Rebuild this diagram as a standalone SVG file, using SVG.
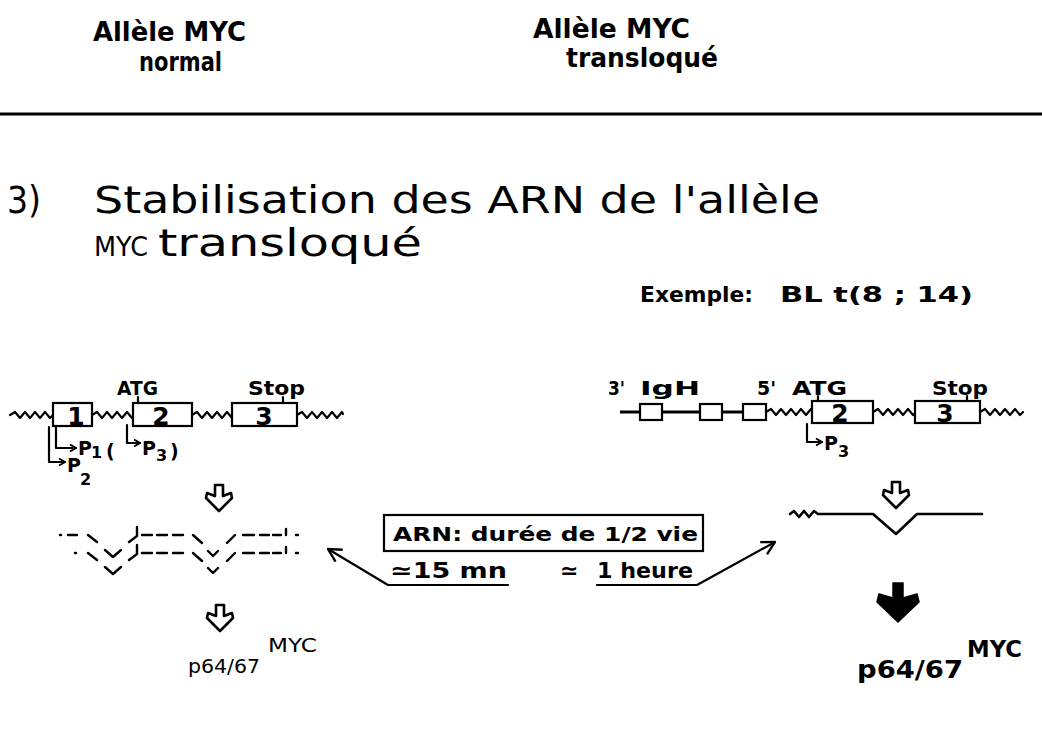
<svg xmlns="http://www.w3.org/2000/svg" width="1042" height="743" viewBox="0 0 1042 743">
<defs>
<style>
text{font-family:"DejaVu Sans","Liberation Sans",sans-serif;fill:#000}
.hd{font-family:"DejaVu Sans Condensed","DejaVu Sans",sans-serif;font-size:27px;font-weight:bold}
.tt{font-family:"DejaVu Sans Condensed","DejaVu Sans",sans-serif;font-size:37px}
.lb{font-size:20px;font-weight:bold}
.num{font-size:25px;font-weight:bold;text-anchor:middle}
.pp{font-size:19px;font-weight:bold}
.sb{font-size:16px;font-weight:bold}
.ln{fill:none;stroke:#000;stroke-width:2.2;stroke-linecap:round;stroke-linejoin:round}
.box{fill:#fff;stroke:#000;stroke-width:2.2}
.dash{fill:none;stroke:#000;stroke-width:2.4;stroke-linecap:round;stroke-linejoin:round}
.oa{fill:#fff;stroke:#000;stroke-width:2.6;stroke-linejoin:round}
</style>
<marker id="pa" viewBox="0 0 8 8" refX="7" refY="4" markerWidth="8" markerHeight="8" markerUnits="userSpaceOnUse" orient="auto">
<path d="M1,0.5 L7,4 L1,7.5" fill="none" stroke="#000" stroke-width="1.8"/>
</marker>
<marker id="la" viewBox="0 0 16 16" refX="15" refY="8" markerWidth="16" markerHeight="16" markerUnits="userSpaceOnUse" orient="auto">
<path d="M2,1 L15,8 L2,15" fill="none" stroke="#000" stroke-width="2.4"/>
</marker>
<path id="oarrow" d="M-4,0 H4 V11 L12,8 L13,13 L0,26 L-13,13 L-12,8 L-4,11 Z"/>
</defs>

<g id="header">
<text class="hd" x="93" y="41" textLength="153" lengthAdjust="spacingAndGlyphs">Allèle MYC</text>
<text class="hd" x="139" y="71" textLength="83" lengthAdjust="spacingAndGlyphs">normal</text>
<text class="hd" x="533" y="38" textLength="157" lengthAdjust="spacingAndGlyphs">Allèle MYC</text>
<text class="hd" x="566" y="67" textLength="152" lengthAdjust="spacingAndGlyphs">transloqué</text>
<line x1="0" y1="114" x2="1042" y2="114" stroke="#000" stroke-width="3"/>
</g>

<g id="title">
<text class="tt" x="7" y="213" textLength="34" lengthAdjust="spacingAndGlyphs">3)</text>
<text class="tt" x="94" y="213" textLength="726" lengthAdjust="spacingAndGlyphs">Stabilisation des ARN de l'allèle</text>
<text class="tt" x="94" y="256" style="font-size:27px" textLength="54" lengthAdjust="spacingAndGlyphs">MYC</text>
<text class="tt" x="158" y="256" textLength="264" lengthAdjust="spacingAndGlyphs">transloqué</text>
<text class="lb" x="640" y="302" style="font-size:22px" textLength="113" lengthAdjust="spacingAndGlyphs">Exemple:</text>
<text class="lb" x="780" y="302" style="font-size:22px" textLength="193" lengthAdjust="spacingAndGlyphs">BL t(8 ; 14)</text>
</g>

<g id="gene-normal">
<path class="ln" d="M10,415 l5,-3 5,6 5,-6 5,6 5,-6 5,6 5,-6 5,6 3,-3"/>
<rect class="box" x="53" y="403" width="39" height="23"/>
<text class="num" x="76" y="425">1</text>
<path class="ln" d="M92,415 l5,-3 5,6 5,-6 5,6 5,-6 5,6 5,-6 5,6 3,-3"/>
<rect class="box" x="133" y="403" width="59" height="23"/>
<text class="num" x="161" y="425">2</text>
<path class="ln" d="M192,415 l5,-3 5,6 5,-6 5,6 5,-6 5,6 5,-6 5,6"/>
<rect class="box" x="232" y="403" width="65" height="23"/>
<text class="num" x="264" y="425">3</text>
<path class="ln" d="M297,415 l5,-3 5,6 5,-6 5,6 5,-6 5,6 5,-6 5,6 5,-6 1,2"/>
<text class="lb" x="117" y="395" textLength="41" lengthAdjust="spacingAndGlyphs">ATG</text>
<line class="ln" x1="138" y1="397" x2="138" y2="403"/>
<text class="lb" x="248" y="395" textLength="57" lengthAdjust="spacingAndGlyphs">Stop</text>
<line class="ln" x1="283" y1="397" x2="283" y2="403"/>
<path class="ln" d="M49,427 V462 H65" marker-end="url(#pa)"/>
<path class="ln" d="M56,427 V448 H76" marker-end="url(#pa)"/>
<path class="ln" d="M127,425 V443 H140" marker-end="url(#pa)"/>
<text class="pp" x="78" y="455">P</text>
<text class="sb" x="91" y="458">1</text>
<text class="pp" x="67" y="472">P</text>
<text class="sb" x="80" y="485">2</text>
<text class="pp" x="106" y="458">(</text>
<text class="pp" x="142" y="455">P</text>
<text class="sb" x="156" y="461">3</text>
<text class="pp" x="170" y="458">)</text>
</g>

<g id="arrow-normal-1"><use href="#oarrow" class="oa" transform="translate(219,485)"/></g>

<g id="rna-normal">
<path class="dash" d="M60,535 h1 M68,535 h9 M88,535 l9,7 M129,542 l8,-6 V527 M142,535 h10 M157,535 h10 M173,535 h10 M193,535 l9,8 M227,543 l8,-8 M243,535 h11 M260,535 h9 M273,535 h8 M286,529 v6 M296,535 h2"/>
<path class="dash" d="M75,553 h1 M88,553 l9,7 M105,550 l8,7 l8,-7 M105,567 l8,7 l8,-7 M129,560 l8,-6 V545 M142,553 h10 M157,553 h10 M173,553 h10 M193,553 l9,8 M208,551 l5,5 l5,-5 M208,568 l5,5 l5,-5 M227,561 l8,-8 M243,553 h11 M260,553 h9 M273,553 h8 M286,547 v6 M296,553 h2"/>
</g>

<g id="arrow-normal-2"><use href="#oarrow" class="oa" transform="translate(220,605)"/></g>

<g id="protein-normal">
<text x="188" y="673" style="font-size:20px" textLength="72" lengthAdjust="spacingAndGlyphs">p64/67</text>
<text x="268" y="652" style="font-size:20px" textLength="49" lengthAdjust="spacingAndGlyphs">MYC</text>
</g>

<g id="half-life">
<rect x="384" y="515" width="319" height="36" fill="#fff" stroke="#000" stroke-width="2.2"/>
<text class="lb" x="393" y="541" textLength="305" lengthAdjust="spacingAndGlyphs">ARN: durée de 1/2 vie</text>
<text class="lb" x="390" y="578" style="font-size:22px" textLength="117" lengthAdjust="spacingAndGlyphs">≃15 mn</text>
<text class="lb" x="560" y="578" style="font-size:22px">≃</text>
<text class="lb" x="597" y="578" style="font-size:22px" textLength="96" lengthAdjust="spacingAndGlyphs">1 heure</text>
</g>

<g id="connectors">
<path class="ln" d="M508,585 H388 L328,549" marker-end="url(#la)"/>
<path class="ln" d="M597,585 H697 L775,542" marker-end="url(#la)"/>
</g>

<g id="gene-translocated">
<text class="lb" x="608" y="395" textLength="17" lengthAdjust="spacingAndGlyphs">3'</text>
<text class="lb" x="640" y="395" textLength="60" lengthAdjust="spacingAndGlyphs">IgH</text>
<text class="lb" x="757" y="395" textLength="19" lengthAdjust="spacingAndGlyphs">5'</text>
<text class="lb" x="792" y="395" textLength="55" lengthAdjust="spacingAndGlyphs">ATG</text>
<line class="ln" x1="818" y1="396" x2="818" y2="401"/>
<text class="lb" x="932" y="395" textLength="56" lengthAdjust="spacingAndGlyphs">Stop</text>
<line class="ln" x1="967" y1="396" x2="967" y2="401"/>
<line x1="620" y1="412" x2="766" y2="412" stroke="#000" stroke-width="3"/>
<rect class="box" x="640" y="404" width="22" height="16"/>
<rect class="box" x="700" y="404" width="22" height="16"/>
<rect class="box" x="743" y="404" width="23" height="16"/>
<path class="ln" d="M766,412 l5,-3 5,6 5,-6 5,6 5,-6 5,6 5,-6 5,6 5,-6 3,3"/>
<rect class="box" x="812" y="401" width="61" height="22"/>
<text class="num" x="840" y="422">2</text>
<path class="ln" d="M873,412 l5,-3 5,6 5,-6 5,6 5,-6 5,6 5,-6 5,6 4,-3"/>
<rect class="box" x="915" y="401" width="65" height="22"/>
<text class="num" x="945" y="422">3</text>
<path class="ln" d="M980,412 l5,-3 5,6 5,-6 5,6 5,-6 5,6 5,-6 5,6 3,-3"/>
<path class="ln" d="M807,424 V442 H822" marker-end="url(#pa)"/>
<text class="pp" x="824" y="450">P</text>
<text class="sb" x="838" y="457">3</text>
</g>

<g id="arrow-transl-1"><use href="#oarrow" class="oa" transform="translate(896,482)"/></g>

<g id="rna-transl">
<path class="ln" d="M790,514 l4,-3 5,6 5,-6 5,6 5,-6 4,3 H873 L896,534 L917,514 H982" style="stroke-width:2.6"/>
</g>

<g id="arrow-transl-2">
<path d="M893,583 H903 V598 L917,594 L919,602 L898,622 L877,602 L879,594 L893,598 Z" fill="#000" stroke="#000" stroke-width="1.5" stroke-linejoin="round"/>
</g>

<g id="protein-transl">
<text x="857" y="678" style="font-size:24px;font-weight:bold" textLength="106" lengthAdjust="spacingAndGlyphs">p64/67</text>
<text x="967" y="657" style="font-size:23px;font-weight:bold" textLength="55" lengthAdjust="spacingAndGlyphs">MYC</text>
</g>
</svg>
